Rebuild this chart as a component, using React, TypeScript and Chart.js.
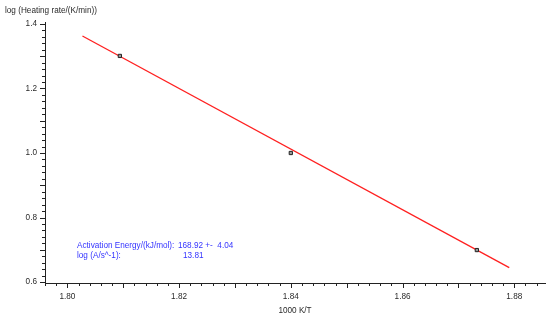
import React, { useEffect, useRef } from "react";
import { Chart, registerables } from "chart.js";

Chart.register(...registerables);

// Measured data (1000/T vs log heating rate)
const invT = [1.8094, 1.84, 1.8733];
const logRate = [1.301, 1.0, 0.699];
// Linear fit line end points
const fitX = [1.8027, 1.8791];
const fitY = [1.3628, 0.6444];
// Axis tick labels
const xTickLabels = [1.8, 1.82, 1.84, 1.86, 1.88];
const yTickLabels = [0.6, 0.8, 1.0, 1.2, 1.4];
// Texts
const yTitle = "log (Heating rate/(K/min))";
const xTitle = "1000 K/T";
const resultLabels = ["Activation Energy/(kJ/mol):", "log (A/s^-1):"];
const resultValues = ["168.92 +-  4.04", "13.81"];

const FONT = "'Liberation Sans', Arial, sans-serif";
const TEXT = "#2a2a2a";
const BLUE = "rgb(52,52,255)";

const decorPlugin = {
  id: "decor",
  afterDraw(chart: any) {
    const { ctx, chartArea, scales } = chart;
    const xs = scales.x;
    const ys = scales.y;
    ctx.save();
    ctx.strokeStyle = "#222";
    ctx.lineWidth = 1;
    // x minor / major ticks
    const xStep = 0.002;
    for (let i = Math.ceil(xs.min / xStep - 1e-6); i * xStep <= xs.max + 1e-9; i++) {
      const px = Math.round(xs.getPixelForValue(i * xStep)) + 0.5;
      const len = i % 5 === 0 ? 5 : 3;
      ctx.beginPath();
      ctx.moveTo(px, chartArea.bottom);
      ctx.lineTo(px, chartArea.bottom + len);
      ctx.stroke();
    }
    const yStep = 0.02;
    for (let i = Math.ceil(ys.min / yStep - 1e-6); i * yStep <= ys.max + 1e-9; i++) {
      const py = Math.round(ys.getPixelForValue(i * yStep)) + 0.5;
      const len = i % 5 === 0 ? 5 : 3;
      ctx.beginPath();
      ctx.moveTo(chartArea.left, py);
      ctx.lineTo(chartArea.left - len, py);
      ctx.stroke();
    }
    // titles
    ctx.fillStyle = TEXT;
    ctx.font = `8.2px ${FONT}`;
    ctx.textBaseline = "middle";
    ctx.textAlign = "left";
    ctx.fillText(yTitle, 5, 11);
    ctx.textAlign = "center";
    ctx.fillText(xTitle, (chartArea.left + chartArea.right) / 2, 310.5);
    // results annotation
    ctx.fillStyle = BLUE;
    ctx.textAlign = "left";
    ctx.fillText(resultLabels[0], 77, 246);
    ctx.fillText(resultLabels[1], 77, 255.5);
    ctx.fillText(resultValues[0], 178, 246);
    ctx.fillText(resultValues[1], 183, 255.5);
    ctx.restore();
  },
};

export default function App() {
  const ref = useRef<HTMLCanvasElement | null>(null);
  useEffect(() => {
    document.body.style.margin = "0";
    const canvas = ref.current;
    if (!canvas) return;
    const chart = new Chart(canvas, {
      type: "scatter",
      data: {
        datasets: [
          {
            label: "data",
            data: invT.map((x, i) => ({ x, y: logRate[i] })),
            showLine: false,
            pointStyle: "rect",
            pointRadius: 2.3,
            pointBorderWidth: 1,
            pointBorderColor: "#222",
            pointBackgroundColor: "#999",
          },
          {
            label: "fit",
            data: fitX.map((x, i) => ({ x, y: fitY[i] })),
            showLine: true,
            borderColor: "#ff2020",
            borderWidth: 1.3,
            pointRadius: 0,
            fill: false,
          },
        ],
      },
      options: {
        animation: false,
        responsive: false,
        devicePixelRatio: 1,
        layout: { padding: { top: 22, right: 5, left: 0, bottom: 0 } },
        plugins: {
          legend: { display: false },
          tooltip: { enabled: false },
          title: { display: false },
        },
        scales: {
          x: {
            type: "linear",
            min: 1.796,
            max: 1.8855,
            grid: { display: false, drawTicks: false, tickLength: 0 },
            border: { display: true, color: "#222", width: 1 },
            afterBuildTicks: (scale: any) => {
              scale.ticks = xTickLabels.map((v) => ({ value: v }));
            },
            afterFit: (scale: any) => {
              scale.height = 37;
            },
            ticks: {
              autoSkip: false,
              maxRotation: 0,
              padding: 9,
              color: TEXT,
              font: { family: FONT, size: 8.2 },
              callback: (v: any) => Number(v).toFixed(2),
            },
          },
          y: {
            type: "linear",
            min: 0.5969,
            max: 1.4062,
            grid: { display: false, drawTicks: false, tickLength: 0 },
            border: { display: true, color: "#222", width: 1 },
            afterBuildTicks: (scale: any) => {
              scale.ticks = yTickLabels.map((v) => ({ value: v }));
            },
            afterFit: (scale: any) => {
              scale.width = 45;
            },
            ticks: {
              autoSkip: false,
              padding: 8,
              color: TEXT,
              font: { family: FONT, size: 8.2 },
              callback: (v: any) => Number(v).toFixed(1),
            },
          },
        },
      },
      plugins: [decorPlugin],
    });
    return () => chart.destroy();
  }, []);
  return (
    <div style={{ width: 550, height: 320 }}>
      <canvas ref={ref} width={550} height={320} style={{ display: "block" }} />
    </div>
  );
}
